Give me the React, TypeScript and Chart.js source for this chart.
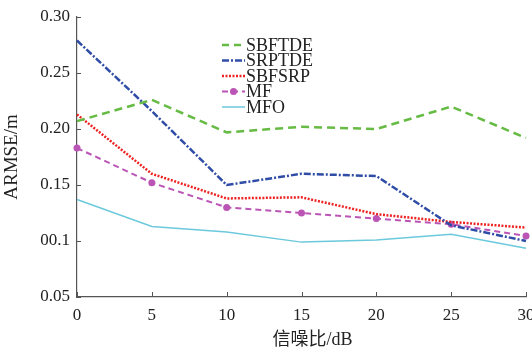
import React, { useEffect, useRef } from "react";
import { Chart, registerables } from "chart.js";

Chart.register(...registerables);

const xLabels = ["0", "5", "10", "15", "20", "25", "30"];
const yTickLabels = ["0.05", "00.1", "0.15", "0.20", "0.25", "0.30"];

const seriesNames = ["SBFTDE", "SRPTDE", "SBFSRP", "MF", "MFO"];
const sbftde = [0.207, 0.226, 0.197, 0.202, 0.2, 0.22, 0.192];
const srptde = [0.279, 0.216, 0.15, 0.16, 0.158, 0.114, 0.1];
const sbfsrp = [0.213, 0.16, 0.138, 0.139, 0.124, 0.117, 0.112];
const mf = [0.183, 0.152, 0.13, 0.125, 0.12, 0.115, 0.1045];
const mfo = [0.137, 0.113, 0.108, 0.099, 0.101, 0.106, 0.0935];

const yTitle = "ARMSE/m";
const xTitle = "信噪比/dB";

const SERIF = "'Liberation Serif', 'Times New Roman', 'Noto Sans CJK SC', serif";

const styles = [
  { color: "#66bb44", dash: [8, 5], width: 2.5, point: 0 },
  { color: "#2f4da6", dash: [7, 2, 2, 2], width: 2.5, point: 0 },
  { color: "#ee2222", dash: [2, 1.5], width: 2.5, point: 0 },
  { color: "#bb55b5", dash: [6, 4], width: 2, point: 3.5 },
  { color: "#6cc9dc", dash: [], width: 1.5, point: 0 },
];

const inwardTicks = {
  id: "inwardTicks",
  afterDraw(chart: any) {
    const ctx = chart.ctx;
    const xs = chart.scales.x;
    const ys = chart.scales.y;
    const area = chart.chartArea;
    ctx.save();
    ctx.strokeStyle = "#555";
    ctx.lineWidth = 1;
    ys.ticks.forEach((t: any) => {
      const y = Math.round(ys.getPixelForValue(t.value)) + 0.5;
      ctx.beginPath();
      ctx.moveTo(area.left, y);
      ctx.lineTo(area.left + 4, y);
      ctx.stroke();
    });
    xLabels.forEach((_l, i) => {
      const x = Math.round(xs.getPixelForValue(i)) + 0.5;
      ctx.beginPath();
      ctx.moveTo(x, area.bottom);
      ctx.lineTo(x, area.bottom - 5);
      ctx.stroke();
    });
    // x title
    ctx.fillStyle = "#222";
    ctx.font = `18px ${SERIF}`;
    ctx.textAlign = "center";
    ctx.textBaseline = "middle";
    ctx.fillText(xTitle, (area.left + area.right) / 2 + 11, 340);
    ctx.restore();
  },
};

const innerLegend = {
  id: "innerLegend",
  afterDraw(chart: any) {
    const ctx = chart.ctx;
    ctx.save();
    const x0 = 222;
    const x1 = 245;
    chart.data.datasets.forEach((ds: any, i: number) => {
      const s = styles[i];
      const y = 45 + i * 15.5;
      ctx.strokeStyle = s.color;
      ctx.lineWidth = s.width;
      ctx.setLineDash(i === 0 ? [7, 5] : s.dash);
      ctx.beginPath();
      ctx.moveTo(x0, y);
      ctx.lineTo(x1, y);
      ctx.stroke();
      ctx.setLineDash([]);
      if (s.point) {
        ctx.fillStyle = s.color;
        ctx.beginPath();
        ctx.arc((x0 + x1) / 2, y, s.point, 0, Math.PI * 2);
        ctx.fill();
      }
      ctx.fillStyle = "#222";
      ctx.font = `18px ${SERIF}`;
      ctx.textAlign = "left";
      ctx.textBaseline = "middle";
      ctx.fillText(ds.label, x1 + 1, y + 1);
    });
    ctx.restore();
  },
};

export default function App() {
  const ref = useRef<HTMLCanvasElement | null>(null);

  useEffect(() => {
    if (!ref.current) return;
    const all = [sbftde, srptde, sbfsrp, mf, mfo];
    const chart = new Chart(ref.current, {
      type: "line",
      data: {
        labels: xLabels,
        datasets: all.map((d, i) => ({
          label: seriesNames[i],
          data: d,
          borderColor: styles[i].color,
          backgroundColor: styles[i].color,
          borderWidth: styles[i].width,
          borderDash: styles[i].dash,
          pointRadius: styles[i].point,
          pointBorderWidth: 0,
          pointBackgroundColor: styles[i].color,
          tension: 0,
          fill: false,
        })),
      },
      options: {
        animation: false,
        responsive: false,
        layout: { padding: { top: 17, right: 6, left: 0, bottom: 0 } },
        plugins: {
          legend: { display: false },
          tooltip: { enabled: false },
        },
        scales: {
          x: {
            type: "category",
            offset: false,
            grid: { display: false, drawTicks: false },
            border: { display: true, color: "#555", width: 1.2 },
            ticks: {
              color: "#222",
              font: { family: SERIF, size: 17 },
              padding: 8,
              maxRotation: 0,
              autoSkip: false,
            },
            afterFit(scale: any) {
              scale.height = 56;
              scale.paddingLeft = 0;
              scale.paddingRight = 0;
            },
          },
          y: {
            min: 0.05,
            max: 0.3,
            grid: { display: false, drawTicks: false },
            border: { display: true, color: "#555", width: 1.2 },
            ticks: {
              stepSize: 0.05,
              color: "#222",
              font: { family: SERIF, size: 17 },
              padding: 7,
              callback: (_v: any, i: number) => yTickLabels[i],
            },
            title: {
              display: true,
              text: yTitle,
              color: "#222",
              font: { family: SERIF, size: 19 },
              padding: { top: 1, bottom: 0 },
            },
            afterFit(scale: any) {
              scale.width = 77;
              scale.paddingTop = 0;
              scale.paddingBottom = 0;
            },
          },
        },
      },
      plugins: [inwardTicks, innerLegend],
    });
    return () => chart.destroy();
  }, []);

  return (
    <div style={{ position: "fixed", left: 0, top: 0, width: 532, height: 353, background: "#fff" }}>
      <canvas ref={ref} width={532} height={353} style={{ display: "block" }} />
    </div>
  );
}
